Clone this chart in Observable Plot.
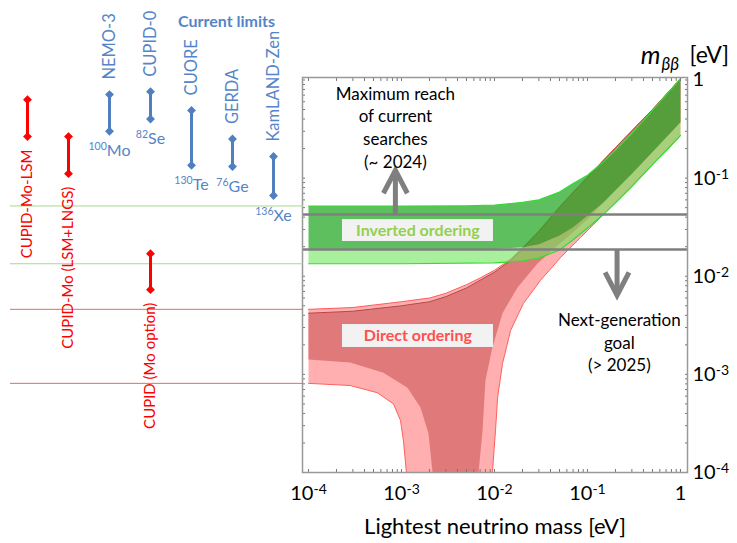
<!DOCTYPE html>
<html>
<head>
<meta charset="utf-8">
<script src="https://cdn.jsdelivr.net/npm/d3@7"></script>
<script src="https://cdn.jsdelivr.net/npm/@observablehq/plot@0.6"></script>
<style>
  body { margin: 0; background: #fff; }
  #wrap { position: relative; width: 737px; height: 543px; }
  #wrap svg { position: absolute; left: 0; top: 0; }
</style>
</head>
<body>
<div id="wrap"></div>
<script>
// ---------------- data (masses and m_bb in eV) ----------------
// Inverted ordering band boundaries [lightest mass, m_bb]
const ioTop = [[1e-4,0.052],[1e-3,0.052],[5e-3,0.0522],[0.01,0.053],[0.02,0.0565],[0.03,0.06],[0.05,0.072],[0.07,0.088],[0.1,0.107],[0.15,0.148],[0.2,0.192],[0.3,0.285],[0.5,0.49],[0.7,0.70],[1,1.03]];
const ioInnerBottom = [[1e-4,0.0186],[1e-3,0.0186],[0.01,0.019],[0.02,0.0197],[0.03,0.0212],[0.05,0.026],[0.07,0.0315],[0.1,0.0415],[0.15,0.057],[0.2,0.075],[0.3,0.11],[0.5,0.185],[0.7,0.26],[1,0.37]];
const ioOuterBottom = [[1e-4,0.0134],[1e-3,0.0134],[0.01,0.0137],[0.02,0.0143],[0.03,0.0153],[0.05,0.0185],[0.07,0.0235],[0.1,0.031],[0.15,0.043],[0.2,0.056],[0.3,0.082],[0.5,0.137],[0.7,0.19],[1,0.272]];
// Normal (direct) ordering band boundaries; 1e-4 = falls off the bottom of the axis
const noOuterTop = [[1e-4,0.0046],[3e-4,0.0048],[1e-3,0.0055],[2e-3,0.006],[3e-3,0.0067],[5e-3,0.0082],[7e-3,0.0096],[0.01,0.0115],[0.015,0.015],[0.02,0.0195],[0.03,0.029],[0.05,0.051],[0.07,0.072],[0.1,0.103],[0.2,0.205],[0.5,0.50],[1,1.03]];
const noInnerTop = [[1e-4,0.0042],[3e-4,0.0044],[1e-3,0.0050],[2e-3,0.0055],[3e-3,0.0062],[5e-3,0.0076],[7e-3,0.0091],[0.01,0.011],[0.015,0.0145],[0.02,0.019],[0.03,0.0285],[0.05,0.05],[0.1,0.102],[0.2,0.204],[0.5,0.50],[1,1.03]];
const noInnerBottom = [[1e-4,0.00142],[2.8e-4,0.00132],[6.4e-4,0.00104],[1.16e-3,0.00073],[1.6e-3,0.00046],[1.95e-3,0.00025],[2.16e-3,1e-4],[6.73e-3,1e-4],[7.43e-3,0.00026],[8.0e-3,0.00087],[9.5e-3,0.00188],[0.0122,0.0042],[0.0177,0.0077],[0.029,0.0135],[0.045,0.0196],[0.07,0.028],[0.1,0.038],[0.2,0.075],[0.5,0.185],[1,0.37]];
const noOuterBottom = [[1e-4,0.00081],[2.8e-4,0.00077],[5.5e-4,0.00065],[8.2e-4,0.0005],[9.75e-4,0.00034],[1.05e-3,0.00021],[1.13e-3,1e-4],[9.5e-3,1e-4],[0.01026,0.00027],[0.0108,0.00058],[0.0122,0.00129],[0.0149,0.0028],[0.0205,0.0053],[0.0313,0.0091],[0.0513,0.0155],[0.0841,0.0248],[0.138,0.0397],[0.21,0.0592],[0.5,0.137],[1,0.272]];

// sensitivity levels
const currentReach = 0.0425;   // maximum reach of current searches (~2024)
const nextGenGoal = 0.0187;    // next-generation goal (>2025)

// current limits (blue) — m_bb ranges
const limitNames = ["NEMO-3", "CUPID-0", "CUORE", "GERDA", "KamLAND-Zen"];
const limitIsotopes = ["100Mo", "82Se", "130Te", "76Ge", "136Xe"];
const limitHigh = [0.71, 0.76, 0.49, 0.25, 0.166];
const limitLow = [0.30, 0.40, 0.135, 0.131, 0.0665];
// CUPID projections (red)
const cupidNames = ["CUPID-Mo-LSM", "CUPID-Mo (LSM+LNGS)", "CUPID (Mo option)"];
const cupidHigh = [0.63, 0.265, 0.017];
const cupidLow = [0.265, 0.111, 0.0073];
// column slots on the left panel
const columnOrder = ["CUPID-Mo-LSM", "CUPID-Mo (LSM+LNGS)", "NEMO-3", "CUPID-0", "CUORE", "GERDA", "KamLAND-Zen"];
const cupidColumn = ["CUPID-Mo-LSM", "CUPID-Mo (LSM+LNGS)", "CUPID-0"];

// annotations (mass, m_bb)
const notes = [
  {text: "Maximum reach\nof current\nsearches\n(~ 2024)", m: 8.6e-4, v: 0.336},
  {text: "Next-generation\ngoal\n(> 2025)", m: 0.22, v: 0.00216}
];
const arrows = [
  {m: 8.6e-4, from: currentReach, to: 0.12, dir: "up"},
  {m: 0.208, from: nextGenGoal, to: 0.0064, dir: "down"}
];
const orderingLabels = [
  {text: "Inverted ordering", m: 1.5e-3, v: 0.0292, m1: 2.32e-4, m2: 9.75e-3, v1: 0.0226, v2: 0.0378, color: "#92d050"},
  {text: "Direct ordering", m: 1.5e-3, v: 0.00245, m1: 2.32e-4, m2: 9.75e-3, v1: 0.00188, v2: 0.00322, color: "#ff5050"}
];
const xTicks = [1e-4, 1e-3, 1e-2, 1e-1, 1];
const yTicks = [1e-4, 1e-3, 1e-2, 1e-1, 1];

// ---------------- helpers ----------------
const FONT = "Lato, 'Noto Sans', 'DejaVu Sans', sans-serif";
const xDomain = [8.62e-5, 1.19];
const yDomain = [1e-4, 1.06];
const M = {marginTop: 77, marginBottom: 71};
const polygon = (top, bottom) => [...top, ...bottom.slice().reverse()];
const px = d => d[0], py = d => d[1];
const fmt = d => d === 1 ? "1" : "10" + Math.round(Math.log10(d));
function minorTicks(lo, hi) {
  const out = [];
  for (let k = -4; k <= 0; k++) for (let d = 1; d <= 9; d++) {
    const v = d * Math.pow(10, k);
    if (v >= lo * 0.9999 && v <= hi * 1.0001) out.push(v);
  }
  return out;
}
const minors = minorTicks(1e-4, 1);
const chevron = (dir) => ({
  draw(ctx, size) {
    const L = Math.sqrt(size / Math.PI);
    const s = dir === "up" ? 1 : -1;
    ctx.moveTo(-0.46 * L, s * 0.88 * L);
    ctx.lineTo(0, 0);
    ctx.lineTo(0.46 * L, s * 0.88 * L);
  }
});

// ---------------- main chart ----------------
const GRAY = "#7f7f7f";
const main = Plot.plot({
  width: 737, height: 543,
  marginLeft: 302, marginRight: 50, ...M,
  style: {fontFamily: FONT, background: "white", color: "black"},
  x: {type: "log", domain: xDomain, axis: null},
  y: {type: "log", domain: yDomain, axis: null},
  marks: [
    // normal ordering
    Plot.line(polygon(noOuterTop, noOuterBottom), {x: px, y: py, fill: "#ffafaf", stroke: "none"}),
    Plot.line(polygon(noInnerTop, noInnerBottom), {x: px, y: py, fill: "#e07a7a", stroke: "none"}),
    Plot.line(noOuterTop, {x: px, y: py, stroke: "#ff5a5a", strokeWidth: 1}),
    Plot.line(noOuterBottom, {x: px, y: py, stroke: "#ff6060", strokeWidth: 1}),
    Plot.line(noInnerTop, {x: px, y: py, stroke: "#b84848", strokeWidth: 1}),
    // inverted ordering
    Plot.line(polygon(ioInnerBottom, ioOuterBottom), {x: px, y: py, fill: "rgb(110,230,90)", fillOpacity: 0.6, stroke: "none"}),
    Plot.line(polygon(ioTop, ioInnerBottom), {x: px, y: py, fill: "rgb(40,170,40)", fillOpacity: 0.75, stroke: "none"}),
    Plot.line(ioTop, {x: px, y: py, stroke: "#33dd33", strokeWidth: 1.2}),
    Plot.line(ioOuterBottom, {x: px, y: py, stroke: "#33dd33", strokeWidth: 1.2}),
    // sensitivity lines and arrows
    Plot.ruleY([currentReach, nextGenGoal], {stroke: GRAY, strokeWidth: 2.5}),
    Plot.ruleX(arrows, {x: "m", y1: "from", y2: "to", stroke: GRAY, strokeWidth: 5}),
    Plot.dot(arrows.filter(d => d.dir === "up"), {x: "m", y: "to", symbol: chevron("up"), r: 26, stroke: GRAY, strokeWidth: 5, fill: "none", strokeLinejoin: "miter"}),
    Plot.dot(arrows.filter(d => d.dir === "down"), {x: "m", y: "to", symbol: chevron("down"), r: 26, stroke: GRAY, strokeWidth: 5, fill: "none", strokeLinejoin: "miter"}),
    // labels in boxes
    Plot.rect(orderingLabels, {x1: "m1", x2: "m2", y1: "v1", y2: "v2", fill: "#f2f2f2"}),
    Plot.text(orderingLabels, {x: "m", y: "v", text: "text", fill: "color", fontWeight: "bold", fontSize: 16}),
    Plot.text(notes, {x: "m", y: "v", text: "text", fontSize: 17, lineHeight: 1.33, fill: "black"}),
    // frame ticks (inward)
    Plot.axisX(minors, {anchor: "bottom", tickSize: -3, tickFormat: () => "", label: null, stroke: "#777"}),
    Plot.axisX(minors, {anchor: "top", tickSize: -3, tickFormat: () => "", label: null, stroke: "#777"}),
    Plot.axisY(minors, {anchor: "left", tickSize: -3, tickFormat: () => "", label: null, stroke: "#777"}),
    Plot.axisY(minors, {anchor: "right", tickSize: -3, tickFormat: () => "", label: null, stroke: "#777"}),
    Plot.axisX(xTicks, {anchor: "bottom", tickSize: 0, tickPadding: 13, tickFormat: fmt, fontSize: 20, label: null}),
    Plot.axisY(yTicks, {anchor: "right", tickSize: 0, tickPadding: 5, tickFormat: fmt, fontSize: 20, label: null}),
    Plot.frame({stroke: "#999", strokeWidth: 1.5}),
    // axis titles
    Plot.text(["Lightest neutrino mass [eV]"], {frameAnchor: "bottom", text: d => d, dy: 54, lineAnchor: "middle", fontSize: 22, fill: "black"}),
    Plot.text(["m"], {frameAnchor: "top-right", text: d => d, dx: -27, dy: -22, textAnchor: "end", lineAnchor: "middle", fontSize: 25, fontStyle: "italic", fill: "black"}),
    Plot.text(["ββ"], {frameAnchor: "top-right", text: d => d, dx: -26, dy: -13, textAnchor: "start", lineAnchor: "middle", fontSize: 17, fontStyle: "italic", fill: "black"}),
    Plot.text(["[eV]"], {frameAnchor: "top-right", text: d => d, dx: 2, dy: -22, textAnchor: "start", lineAnchor: "middle", fontSize: 23, fill: "black"})
  ]
});

// ---------------- left panel: experiments ----------------
const BLUE = "#4f7fbf", BLUE_TEXT = "#5585c8", RED = "#ff0000";
const limits = limitNames.map((name, i) => ({name, col: name, isotope: limitIsotopes[i], hi: limitHigh[i], lo: limitLow[i]}));
const cupid = cupidNames.map((name, i) => ({name, col: cupidColumn[i], hi: cupidHigh[i], lo: cupidLow[i]}));
const left = Plot.plot({
  width: 303, height: 543,
  marginLeft: 10, marginRight: 0, ...M,
  style: {fontFamily: FONT, background: "transparent", overflow: "visible"},
  x: {type: "point", domain: columnOrder, range: [25.5, 273.5], padding: 0, axis: null},
  y: {type: "log", domain: yDomain, axis: null},
  marks: [
    Plot.ruleY([ioTop[0][1], ioOuterBottom[0][1]], {stroke: "#a6d98f", strokeWidth: 1}),
    Plot.ruleY([noOuterTop[0][1], noOuterBottom[0][1]], {stroke: "#e46a6a", strokeWidth: 1}),
    Plot.ruleX(limits, {x: "col", y1: "lo", y2: "hi", stroke: BLUE, strokeWidth: 3}),
    Plot.dot(limits, {x: "col", y: "hi", symbol: "diamond2", r: 4, fill: BLUE, stroke: "none"}),
    Plot.dot(limits, {x: "col", y: "lo", symbol: "diamond2", r: 4, fill: BLUE, stroke: "none"}),
    Plot.text(limits, {x: "col", y: "hi", text: "name", rotate: -90, textAnchor: "start", dy: -15, fontSize: 16.5, fill: BLUE_TEXT}),
    Plot.text(limits, {x: "col", y: "lo", text: "isotope", dy: 20, fontSize: 16, fill: BLUE_TEXT}),
    Plot.ruleX(cupid, {x: "col", y1: "lo", y2: "hi", stroke: RED, strokeWidth: 3}),
    Plot.dot(cupid, {x: "col", y: "hi", symbol: "diamond2", r: 4, fill: RED, stroke: "none"}),
    Plot.dot(cupid, {x: "col", y: "lo", symbol: "diamond2", r: 4, fill: RED, stroke: "none"}),
    Plot.text(cupid, {x: "col", y: "lo", text: "name", rotate: -90, textAnchor: "end", dy: 13, fontSize: 15, fill: RED}),
    Plot.text(["Current limits"], {frameAnchor: "top-left", text: d => d, dx: 216, dy: -56, textAnchor: "middle", lineAnchor: "middle", fontSize: 16, fontWeight: "bold", fill: BLUE_TEXT})
  ]
});

// superscripts for tick labels and isotopes
d3.select(main).selectAll("g[aria-label$='tick label'] text").each(function () {
  const m = /^10(-?\d+)$/.exec(this.textContent);
  if (m) {
    const s = d3.select(this);
    s.text("10");
    s.append("tspan").attr("dy", "-0.42em").attr("font-size", "0.7em").text(m[1]);
  }
});
d3.select(left).selectAll("text").each(function () {
  const m = /^(\d+)([A-Z][a-z])$/.exec(this.textContent);
  if (m) {
    const s = d3.select(this);
    s.text("");
    s.append("tspan").attr("dy", -6).attr("font-size", "0.66em").text(m[1]);
    s.append("tspan").attr("dy", 6).text(m[2]);
  }
});

document.getElementById("wrap").append(main, left);
</script>
</body>
</html>
